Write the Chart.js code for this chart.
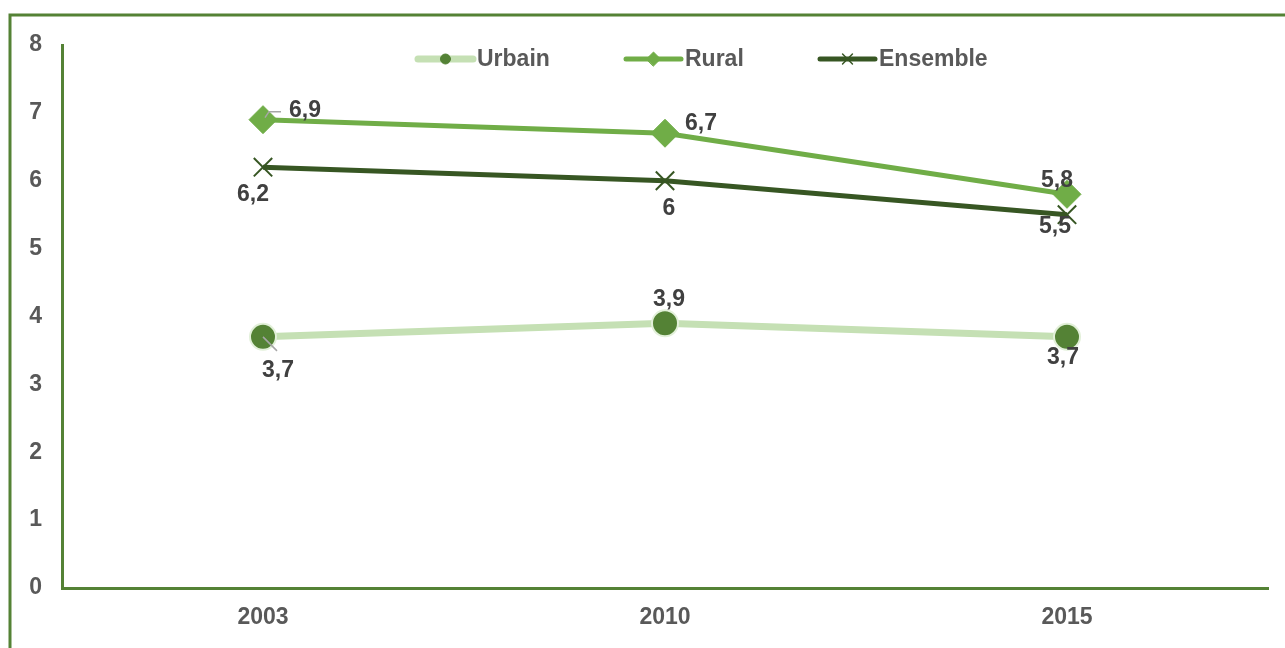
<!DOCTYPE html>
<html>
<head>
<meta charset="utf-8">
<script src="https://cdn.jsdelivr.net/npm/chart.js@4"></script>
<style>
  html, body { margin: 0; padding: 0; background: #fff; }
  #wrap { width: 1285px; height: 648px; position: relative; }
</style>
</head>
<body>
<div id="wrap"><canvas id="chart" width="1285" height="648"></canvas></div>
<script>
/* data */
const years = ["2003", "2010", "2015"];
const urbain = [3.7, 3.9, 3.7];
const rural = [6.9, 6.7, 5.8];
const ensemble = [6.2, 6.0, 5.5];
const seriesNames = ["Urbain", "Rural", "Ensemble"];

const COLORS = {
  frame: "#548235",
  urbanLine: "#c5e0b4",
  urbanDot: "#548235",
  rural: "#70ad47",
  ensemble: "#375623",
  tick: "#595959",
  label: "#404040",
};
const FONT = "Liberation Sans, Arial, sans-serif";

const fmt = (v) => String(v).replace(".", ",");

// where each value label sits relative to its point [dx, dy], per dataset
const labelOffsets = [
  [[15, 34], [4, -24], [-4, 21]],
  [[42, -9], [36, -10], [-10, -14]],
  [[-10, 27], [4, 28], [-12, 12]],
];

const framePlugin = {
  id: "frame",
  beforeDraw(chart) {
    const ctx = chart.ctx;
    ctx.save();
    ctx.strokeStyle = COLORS.frame;
    ctx.lineWidth = 3;
    ctx.beginPath();
    ctx.moveTo(10, 648);
    ctx.lineTo(10, 15);
    ctx.lineTo(1285, 15);
    ctx.stroke();
    ctx.restore();
  },
};

const labelPlugin = {
  id: "valueLabels",
  afterDatasetsDraw(chart) {
    const ctx = chart.ctx;
    ctx.save();
    // small leader lines
    const r0 = chart.getDatasetMeta(1).data[0];
    const u0 = chart.getDatasetMeta(0).data[0];
    ctx.strokeStyle = "#a6a6a6";
    ctx.lineWidth = 1.5;
    ctx.beginPath();
    ctx.moveTo(r0.x + 2, r0.y - 2);
    ctx.lineTo(r0.x + 6, r0.y - 8);
    ctx.lineTo(r0.x + 18, r0.y - 8);
    ctx.moveTo(u0.x, u0.y);
    ctx.lineTo(u0.x + 14, u0.y + 14);
    ctx.stroke();
    ctx.font = "bold 23px " + FONT;
    ctx.fillStyle = COLORS.label;
    ctx.textAlign = "center";
    ctx.textBaseline = "middle";
    chart.data.datasets.forEach((ds, di) => {
      chart.getDatasetMeta(di).data.forEach((pt, i) => {
        const [dx, dy] = labelOffsets[di][i];
        ctx.fillText(fmt(ds.data[i]), pt.x + dx, pt.y + dy);
      });
    });
    ctx.restore();
  },
};

const legendPlugin = {
  id: "customLegend",
  afterDraw(chart) {
    const ctx = chart.ctx;
    const items = [
      { x: 418, ds: 0, r: 5 },
      { x: 626, ds: 1, r: 7 },
      { x: 820, ds: 2, r: 7 },
    ];
    ctx.save();
    items.forEach((it) => {
      const ds = chart.data.datasets[it.ds];
      const y = 59;
      ctx.strokeStyle = ds.borderColor;
      ctx.lineWidth = ds.borderWidth;
      ctx.lineCap = "round";
      ctx.beginPath();
      ctx.moveTo(it.x, y);
      ctx.lineTo(it.x + 55, y);
      ctx.stroke();
      ctx.fillStyle = ds.pointBackgroundColor;
      ctx.strokeStyle = it.ds === 0 ? ds.pointBackgroundColor : ds.pointBorderColor;
      ctx.lineWidth = it.ds === 2 ? 1.5 : 1;
      Chart.helpers.drawPoint(ctx, {
        pointStyle: ds.pointStyle,
        rotation: 0,
        radius: it.r,
        borderWidth: ctx.lineWidth,
      }, it.x + 27.5, y);
      ctx.fillStyle = COLORS.tick;
      ctx.font = "bold 23px " + FONT;
      ctx.textAlign = "left";
      ctx.textBaseline = "middle";
      ctx.fillText(seriesNames[it.ds], it.x + 59, y + 1);
    });
    ctx.restore();
  },
};

new Chart(document.getElementById("chart"), {
  type: "line",
  data: {
    labels: years,
    datasets: [
      {
        label: seriesNames[0],
        data: urbain,
        borderColor: COLORS.urbanLine,
        borderWidth: 7,
        pointStyle: "circle",
        pointRadius: 13,
        pointBackgroundColor: COLORS.urbanDot,
        pointBorderColor: "#e2f0d9",
        pointBorderWidth: 2,
        order: 2,
      },
      {
        label: seriesNames[1],
        data: rural,
        borderColor: COLORS.rural,
        borderWidth: 5,
        pointStyle: "rectRot",
        pointRadius: 14,
        pointBackgroundColor: COLORS.rural,
        pointBorderColor: COLORS.rural,
        pointBorderWidth: 1,
        order: 1,
      },
      {
        label: seriesNames[2],
        data: ensemble,
        borderColor: COLORS.ensemble,
        borderWidth: 5,
        pointStyle: "crossRot",
        pointRadius: 13,
        pointBackgroundColor: COLORS.ensemble,
        pointBorderColor: COLORS.ensemble,
        pointBorderWidth: 2,
        order: 0,
      },
    ],
  },
  options: {
    responsive: false,
    animation: false,
    layout: { padding: { top: 45, right: 17, left: 0, bottom: 0 } },
    plugins: {
      legend: { display: false },
      tooltip: { enabled: false },
    },
    elements: { line: { tension: 0 } },
    scales: {
      x: {
        offset: true,
        grid: { display: false, drawTicks: false },
        border: { color: COLORS.frame, width: 3 },
        ticks: { color: COLORS.tick, font: { family: FONT, size: 23, weight: "bold" }, padding: 16 },
        afterFit: (s) => { s.height = 60; },
      },
      y: {
        min: 0,
        max: 8,
        grid: { display: false, drawTicks: false },
        border: { color: COLORS.frame, width: 3 },
        ticks: { stepSize: 1, color: COLORS.tick, font: { family: FONT, size: 23, weight: "bold" }, padding: 20 },
        afterFit: (s) => { s.width = 62; },
      },
    },
  },
  plugins: [framePlugin, labelPlugin, legendPlugin],
});
</script>
</body>
</html>
